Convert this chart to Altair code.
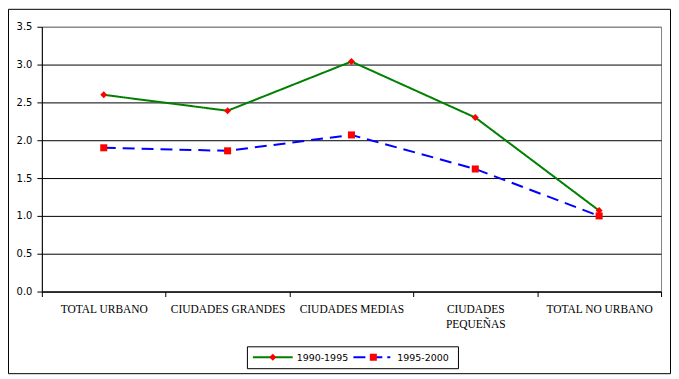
import json
import altair as alt
import pandas as pd

categories = ["TOTAL URBANO", "CIUDADES GRANDES", "CIUDADES MEDIAS", "CIUDADES PEQUEÑAS", "TOTAL NO URBANO"]
series_names = ["1990-1995", "1995-2000"]
values_1990_1995 = [2.60, 2.39, 3.04, 2.30, 1.07]
values_1995_2000 = [1.90, 1.86, 2.07, 1.62, 1.00]
y_ticks = [0.0, 0.5, 1.0, 1.5, 2.0, 2.5, 3.0, 3.5]
line_colors = ["#008000", "#0000FF"]
marker_shapes = ["diamond", "square"]

rows = []
for i, c in enumerate(categories):
    rows.append({"idx": i, "cat": c, "series": series_names[0], "value": values_1990_1995[i]})
    rows.append({"idx": i, "cat": c, "series": series_names[1], "value": values_1995_2000[i]})
df = pd.DataFrame(rows)

W, H = 622, 266

label_lines = [c.split(" ") if c == "CIUDADES PEQUEÑAS" else c for c in categories]
label_expr = ("abs(datum.value % 1) > 0.1 ? '' : "
              + json.dumps(label_lines, ensure_ascii=False)
              + "[round(datum.value)]")
x_vals = [-0.5 + 0.5 * k for k in range(11)]

x_enc = alt.X(
    "idx:Q",
    scale=alt.Scale(domain=[-0.5, len(categories) - 0.5], nice=False, zero=False),
    axis=alt.Axis(
        values=x_vals, labelExpr=label_expr, title=None, grid=False,
        tickSize=5, domainColor="black",
        tickColor={"condition": {"test": "abs(datum.value % 1) > 0.1", "value": "black"}, "value": "transparent"},
        labelFont="Liberation Serif", labelFontSize=11.5, labelColor="black",
        labelPadding=7, labelLineHeight=15, labelAngle=0, labelAlign="center",
        labelBaseline="top", labelOverlap=False, labelFlush=False,
    ),
)
y_enc = alt.Y(
    "value:Q",
    scale=alt.Scale(domain=[0, 3.5], nice=False),
    axis=alt.Axis(
        values=y_ticks, format=".1f", title=None, grid=True,
        gridColor={"condition": {"test": "datum.value >= 3.4", "value": "#808080"}, "value": "black"},
        gridWidth=1, tickSize=5, tickColor="black", domainColor="black",
        labelFont="DejaVu Sans", labelFontSize=10, labelColor="black", labelPadding=5,
        labelOverlap=False,
    ),
)

base = alt.Chart(df)
lines = base.mark_line(strokeWidth=2).encode(
    x=x_enc, y=y_enc,
    color=alt.Color("series:N", scale=alt.Scale(domain=series_names, range=line_colors), legend=None),
    strokeDash=alt.StrokeDash("series:N", scale=alt.Scale(domain=series_names, range=[[1, 0], [12, 7]]), legend=None),
)
points = base.mark_point(filled=True, color="#FF0000", opacity=1, size=50).encode(
    x=x_enc, y=y_enc,
    shape=alt.Shape("series:N", scale=alt.Scale(domain=series_names, range=marker_shapes), legend=None),
)

dummy = pd.DataFrame({"a": [0]})
outer = alt.Chart(dummy).mark_rect(fill=None, stroke="black", strokeWidth=1).encode(
    x=alt.value(-33.5), x2=alt.value(631.5), y=alt.value(-17.5), y2=alt.value(348.5))
leg_box = alt.Chart(dummy).mark_rect(fill="white", stroke="black", strokeWidth=1).encode(
    x=alt.value(206.5), x2=alt.value(418.5), y=alt.value(321.5), y2=alt.value(343.5))
leg_l1 = alt.Chart(dummy).mark_rule(color=line_colors[0], strokeWidth=2).encode(
    x=alt.value(212), x2=alt.value(252), y=alt.value(332))
leg_p1 = alt.Chart(dummy).mark_point(shape=marker_shapes[0], filled=True, color="#FF0000", opacity=1, size=50).encode(
    x=alt.value(232), y=alt.value(332))
leg_t1 = alt.Chart(dummy).mark_text(align="left", baseline="middle", font="DejaVu Sans", fontSize=9.5, color="black").encode(
    x=alt.value(256), y=alt.value(332.5), text=alt.value(series_names[0]))
leg_l2 = alt.Chart(dummy).mark_rule(color=line_colors[1], strokeWidth=2, strokeDash=[12, 5]).encode(
    x=alt.value(313), x2=alt.value(350), y=alt.value(332))
leg_p2 = alt.Chart(dummy).mark_point(shape=marker_shapes[1], filled=True, color="#FF0000", opacity=1, size=50).encode(
    x=alt.value(333), y=alt.value(332))
leg_t2 = alt.Chart(dummy).mark_text(align="left", baseline="middle", font="DejaVu Sans", fontSize=9.5, color="black").encode(
    x=alt.value(357), y=alt.value(332.5), text=alt.value(series_names[1]))

chart = alt.layer(
    outer, lines, points, leg_box, leg_l1, leg_p1, leg_t1, leg_l2, leg_p2, leg_t2
).properties(
    width=W, height=H,
    autosize=alt.AutoSizeParams(type="none"),
    padding={"left": 34, "top": 18, "right": 10, "bottom": 83},
    background="white",
).configure_view(stroke="#808080", strokeWidth=1)

chart.save("out.html", embed_options={"renderer": "svg", "actions": False})
